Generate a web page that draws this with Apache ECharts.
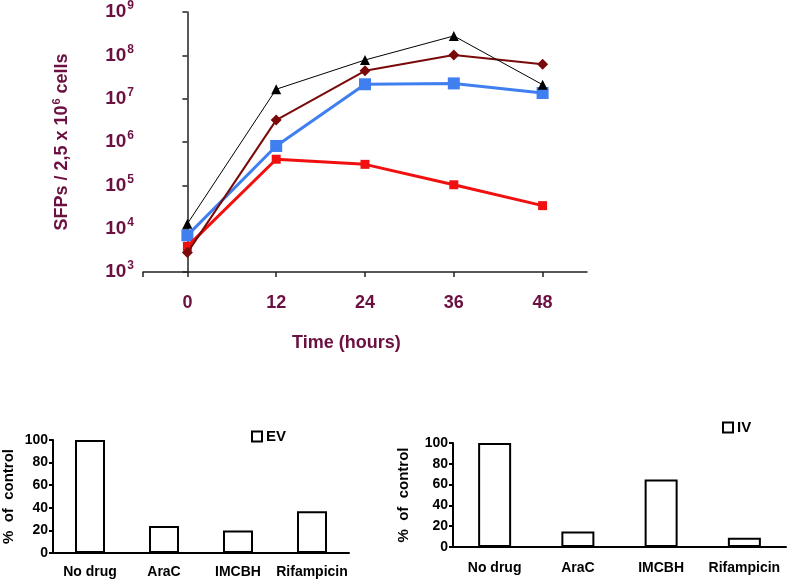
<!DOCTYPE html>
<html>
<head>
<meta charset="utf-8">
<script src="https://cdn.jsdelivr.net/npm/echarts@6/dist/echarts.min.js"></script>
<style>
html,body{margin:0;padding:0;background:#fff;}
#c{width:792px;height:584px;}
</style>
</head>
<body>
<div id="c"></div>
<script>
// ---- Data ----
var times = [0, 12, 24, 36, 48];
var seriesBlack = [1.3e4, 1.65e7, 7.8e7, 2.8e8, 2.1e7];
var seriesDarkRed = [2.8e3, 3.2e6, 4.4e7, 1.02e8, 6.2e7];
var seriesBlue = [7.0e3, 8.1e5, 2.15e7, 2.25e7, 1.35e7];
var seriesRed = [3.9e3, 4.0e5, 3.05e5, 1.03e5, 3.4e4];

var drugs = ['No drug', 'AraC', 'IMCBH', 'Rifampicin'];
var evValues = [100, 24, 20, 37];
var ivValues = [100, 15, 65, 9];

var maroon = '#6b1040';
var ff = '"Liberation Sans", Arial, sans-serif';

function pairs(vals) {
  return times.map(function (t, i) { return [t, vals[i]]; });
}

var chart = echarts.init(document.getElementById('c'), null, {renderer: 'canvas'});

var option = {
  backgroundColor: '#fff',
  animation: false,
  title: [{
    text: 'Time (hours)',
    left: 287, top: 329,
    textStyle: {fontFamily: ff, fontWeight: 'bold', fontSize: 18, color: maroon}
  }],
  legend: [{
    data: ['EV'], left: 246, top: 424, icon: 'rect',
    itemWidth: 10, itemHeight: 10, itemGap: 4,
    textStyle: {fontFamily: ff, fontWeight: 'bold', fontSize: 15, color: '#000', padding: [0,0,0,-1]}
  }, {
    data: ['IV'], left: 717, top: 415, icon: 'rect',
    itemWidth: 10, itemHeight: 10, itemGap: 4,
    textStyle: {fontFamily: ff, fontWeight: 'bold', fontSize: 15, color: '#000', padding: [0,0,0,-1]}
  }],
  grid: [
    {left: 143, right: 205, top: 11, bottom: 312},
    {left: 53, right: 443, top: 440, bottom: 31},
    {left: 453, right: 6, top: 443, bottom: 37}
  ],
  xAxis: [{
    gridIndex: 0, type: 'value', min: -6, max: 54,
    axisLine: {lineStyle: {color: '#222', width: 1.5}},
    axisTick: {show: true, length: 5, inside: false, customValues: [-6, 0, 12, 24, 36, 48], lineStyle: {color: '#222', width: 1.5}},
    axisLabel: {customValues: times, margin: 22, fontFamily: ff, fontWeight: 'bold', fontSize: 18, color: maroon},
    splitLine: {show: false}
  }, {
    gridIndex: 1, type: 'category', data: drugs,
    axisLine: {lineStyle: {color: '#000', width: 2}},
    axisTick: {length: 4, lineStyle: {color: '#000', width: 2}},
    axisLabel: {interval: 0, margin: 12, fontFamily: ff, fontWeight: 'bold', fontSize: 14, color: '#000'}
  }, {
    gridIndex: 2, type: 'category', data: drugs,
    axisLine: {lineStyle: {color: '#000', width: 2}},
    axisTick: {length: 4, lineStyle: {color: '#000', width: 2}},
    axisLabel: {interval: 0, margin: 14, fontFamily: ff, fontWeight: 'bold', fontSize: 14, color: '#000'}
  }],
  yAxis: [{
    gridIndex: 0, type: 'log', logBase: 10, min: 1e3, max: 1e9, splitNumber: 6,
    axisLine: {show: true, lineStyle: {color: '#222', width: 1.5}},
    axisTick: {show: true, length: 5, lineStyle: {color: '#222', width: 1.5}},
    splitLine: {show: false},
    axisLabel: {
      margin: 9, fontFamily: ff, fontWeight: 'bold', fontSize: 18, color: maroon,
      formatter: function (v) {
        var e = Math.round(Math.log(v) / Math.LN10);
        return '{b|10}{s|' + e + '}';
      },
      rich: {
        b: {fontFamily: ff, fontWeight: 'bold', fontSize: 19, color: maroon},
        s: {fontFamily: ff, fontWeight: 'bold', fontSize: 12, color: maroon, padding: [0, 0, 12, 1]}
      }
    },
    name: '{a|SFPs / 2,5 x 10}{s|6}{a| cells}',
    nameLocation: 'middle', nameRotate: 90, nameGap: 69,
    nameTextStyle: {
      fontFamily: ff, fontWeight: 'bold', fontSize: 18, color: maroon,
      rich: {
        a: {fontFamily: ff, fontWeight: 'bold', fontSize: 18, color: maroon},
        s: {fontFamily: ff, fontWeight: 'bold', fontSize: 11, color: maroon, padding: [0, 0, 12, 1]}
      }
    }
  }, {
    gridIndex: 1, type: 'value', min: 0, max: 100, interval: 20,
    axisLine: {show: true, lineStyle: {color: '#000', width: 2}},
    axisTick: {show: true, length: 4, lineStyle: {color: '#000', width: 2}},
    splitLine: {show: false},
    axisLabel: {margin: 5, fontFamily: ff, fontWeight: 'bold', fontSize: 14, color: '#000'},
    name: '%  of  control', nameLocation: 'middle', nameRotate: 90, nameGap: 37,
    nameTextStyle: {fontFamily: ff, fontWeight: 'bold', fontSize: 15, color: '#000'}
  }, {
    gridIndex: 2, type: 'value', min: 0, max: 100, interval: 20,
    axisLine: {show: true, lineStyle: {color: '#000', width: 2}},
    axisTick: {show: true, length: 4, lineStyle: {color: '#000', width: 2}},
    splitLine: {show: false},
    axisLabel: {margin: 5, fontFamily: ff, fontWeight: 'bold', fontSize: 14, color: '#000'},
    name: '%  of  control', nameLocation: 'middle', nameRotate: 90, nameGap: 42,
    nameTextStyle: {fontFamily: ff, fontWeight: 'bold', fontSize: 15, color: '#000'}
  }],
  series: [{
    name: 'blue', type: 'line', xAxisIndex: 0, yAxisIndex: 0, data: pairs(seriesBlue),
    symbol: 'rect', symbolSize: 12, z: 2,
    lineStyle: {color: '#3f7ff0', width: 3}, itemStyle: {color: '#3f7ff0'}
  }, {
    name: 'red', type: 'line', xAxisIndex: 0, yAxisIndex: 0, data: pairs(seriesRed),
    symbol: 'rect', symbolSize: 9, z: 3,
    lineStyle: {color: '#f01010', width: 3}, itemStyle: {color: '#f01010'}
  }, {
    name: 'darkred', type: 'line', xAxisIndex: 0, yAxisIndex: 0, data: pairs(seriesDarkRed),
    symbol: 'diamond', symbolSize: 11, z: 4,
    lineStyle: {color: '#7a0a0a', width: 2}, itemStyle: {color: '#7a0a0a'}
  }, {
    name: 'black', type: 'line', xAxisIndex: 0, yAxisIndex: 0, data: pairs(seriesBlack),
    symbol: 'triangle', symbolSize: 10, z: 5,
    lineStyle: {color: '#000', width: 1}, itemStyle: {color: '#000'}
  }, {
    name: 'EV', type: 'bar', xAxisIndex: 1, yAxisIndex: 1, data: evValues, barWidth: 30,
    itemStyle: {color: '#fff', borderColor: '#000', borderWidth: 2}
  }, {
    name: 'IV', type: 'bar', xAxisIndex: 2, yAxisIndex: 2, data: ivValues, barWidth: 33,
    itemStyle: {color: '#fff', borderColor: '#000', borderWidth: 2}
  }]
};
chart.setOption(option);
</script>
</body>
</html>
